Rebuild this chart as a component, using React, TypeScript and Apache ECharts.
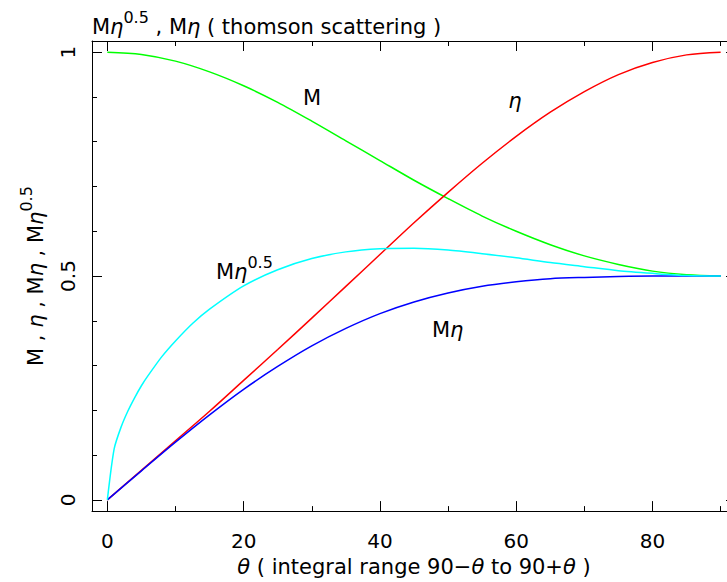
import React, { useEffect, useRef } from "react";
import * as echarts from "echarts";

// θ (degrees) sampled for M, η, Mη
const thetaDeg = [0, 5, 10, 15, 20, 25, 30, 35, 40, 45, 50, 55, 60, 65, 70, 75, 80, 85, 90];
const mValues = [1.0, 0.995, 0.98, 0.956, 0.925, 0.888, 0.846, 0.802, 0.758, 0.714, 0.673, 0.634, 0.6, 0.57, 0.545, 0.526, 0.511, 0.503, 0.5];
const etaValues = [0.0, 0.066, 0.132, 0.198, 0.267, 0.336, 0.406, 0.477, 0.548, 0.619, 0.687, 0.752, 0.812, 0.866, 0.912, 0.95, 0.977, 0.994, 1.0];
const mEtaValues = [0.0, 0.065, 0.129, 0.19, 0.247, 0.298, 0.344, 0.383, 0.416, 0.442, 0.462, 0.477, 0.487, 0.494, 0.497, 0.499, 0.5, 0.5, 0.5];
// θ sampled for Mη^0.5 (denser near 0 where it rises steeply)
const thetaSqrtDeg = [0, 1, 2, 3, 4, 5, 6, 8, 10, 12.5, 15, 20, 25, 30, 35, 40, 45, 50, 55, 60, 65, 70, 75, 80, 85, 90];
const mEtaSqrtValues = [0.0, 0.114, 0.162, 0.198, 0.228, 0.255, 0.278, 0.32, 0.355, 0.394, 0.426, 0.478, 0.514, 0.539, 0.554, 0.561, 0.562, 0.558, 0.55, 0.541, 0.53, 0.521, 0.512, 0.506, 0.501, 0.5];

const xMajorTicks = [0, 20, 40, 60, 80];
const xMinorTicks = [10, 30, 50, 70, 90];
const yMajorTicks = [0, 0.5, 1];
const yMinorTicks = [0.1, 0.2, 0.3, 0.4, 0.6, 0.7, 0.8, 0.9];

const FONT = '"DejaVu Sans", sans-serif';
const FS = 21;
const TICK_FS = 20;

const rich = {
  n: { fontFamily: FONT, fontSize: FS, fontWeight: "normal", color: "#000", lineHeight: 28, verticalAlign: "bottom" },
  g: { fontFamily: FONT, fontSize: FS, fontWeight: "normal", color: "#000", fontStyle: "italic", lineHeight: 28, verticalAlign: "bottom" },
  s: { fontFamily: FONT, fontSize: 16, fontWeight: "normal", color: "#000", lineHeight: 12, verticalAlign: "top" },
};

const lineStyle = { color: "#000", width: 1 };

const CHART_W = 745;
const CHART_H = 582;

function makeX(position: string, ticks: number[], len: number, main: boolean, extra: any = {}) {
  return {
    type: "value",
    gridIndex: 0,
    position,
    min: -2.25,
    max: 92.25,
    splitLine: { show: false },
    axisLine: { show: main, onZero: false, lineStyle },
    axisTick: { show: true, inside: true, length: len, customValues: ticks, lineStyle },
    axisLabel: { show: false },
    ...extra,
  };
}

function makeY(position: string, ticks: number[], len: number, main: boolean, extra: any = {}) {
  return {
    type: "value",
    gridIndex: 0,
    position,
    min: -0.025,
    max: 1.025,
    splitLine: { show: false },
    axisLine: { show: main, onZero: false, lineStyle },
    axisTick: { show: true, inside: true, length: len, customValues: ticks, lineStyle },
    axisLabel: { show: false },
    ...extra,
  };
}

function lineSeries(name: string, xs: number[], ys: number[], color: string, smooth: number) {
  return {
    name,
    type: "line",
    data: xs.map((t, i) => [t, ys[i]]),
    showSymbol: false,
    symbol: "none",
    smooth,
    lineStyle: { color, width: 1.5 },
    itemStyle: { color },
  };
}

export default function App() {
  const ref = useRef<HTMLDivElement>(null);
  useEffect(() => {
    const chart = echarts.init(ref.current!, null, { renderer: "svg" });
    const option: any = {
      animation: false,
      backgroundColor: "#fff",
      title: {
        text: "{n|M}{g|η}{s|0.5}{n| , M}{g|η}{n| ( thomson scattering )}",
        left: 92,
        top: 9,
        padding: 0,
        textStyle: { fontWeight: "normal", fontFamily: FONT, fontSize: FS, rich },
      },
      grid: { left: 92, top: 41, right: CHART_W - 736, bottom: 63, containLabel: false },
      xAxis: [
        makeX("bottom", xMajorTicks, 10, true, {
          axisLabel: {
            show: true,
            customValues: xMajorTicks,
            margin: 20,
            fontFamily: FONT,
            fontSize: TICK_FS,
            color: "#000",
          },
          name: "{g|θ}{n| ( integral range 90−}{g|θ}{n| to 90+}{g|θ}{n| )}",
          nameLocation: "middle",
          nameGap: 35,
          nameTextStyle: { rich },
        }),
        makeX("bottom", xMinorTicks, 5, false),
        makeX("top", xMajorTicks, 10, true),
        makeX("top", xMinorTicks, 5, false),
      ],
      yAxis: [
        makeY("left", yMajorTicks, 10, true, {
          axisLabel: {
            show: true,
            customValues: yMajorTicks,
            rotate: 90,
            margin: 14,
            fontFamily: FONT,
            fontSize: TICK_FS,
            color: "#000",
            formatter: (v: number) => String(v),
          },
          name: "{n|M , }{g|η}{n| , M}{g|η}{n| , M}{g|η}{s|0.5}",
          nameLocation: "middle",
          nameRotate: 90,
          nameGap: 46,
          nameTextStyle: { rich },
        }),
        makeY("left", yMinorTicks, 5, false),
        makeY("right", yMajorTicks, 10, true),
        makeY("right", yMinorTicks, 5, false),
      ],
      series: [
        lineSeries("M", thetaDeg, mValues, "#00ff00", 0.3),
        lineSeries("η", thetaDeg, etaValues, "#ff0000", 0.3),
        lineSeries("Mη", thetaDeg, mEtaValues, "#0000ff", 0.3),
        lineSeries("Mη^0.5", thetaSqrtDeg, mEtaSqrtValues, "#00ffff", 0.25),
      ],
      graphic: [
        {
          type: "text",
          x: 312,
          y: 98,
          style: { text: "M", font: `${FS}px ${FONT}`, fill: "#000", align: "center", verticalAlign: "middle" },
        },
        {
          type: "text",
          x: 515,
          y: 101,
          style: { text: "η", font: `italic ${FS}px ${FONT}`, fill: "#000", align: "center", verticalAlign: "middle" },
        },
        {
          type: "text",
          x: 216,
          y: 268,
          style: { text: "{n|M}{g|η}{s|0.5}", rich, align: "left", verticalAlign: "middle" },
        },
        {
          type: "text",
          x: 432,
          y: 326,
          style: { text: "{n|M}{g|η}", rich, align: "left", verticalAlign: "middle" },
        },
      ],
    };
    chart.setOption(option);
    return () => chart.dispose();
  }, []);
  return (
    <div style={{ position: "fixed", left: 0, top: 0, width: 727, height: 582, overflow: "hidden", background: "#fff" }}>
      <div ref={ref} style={{ width: CHART_W, height: CHART_H }} />
    </div>
  );
}
